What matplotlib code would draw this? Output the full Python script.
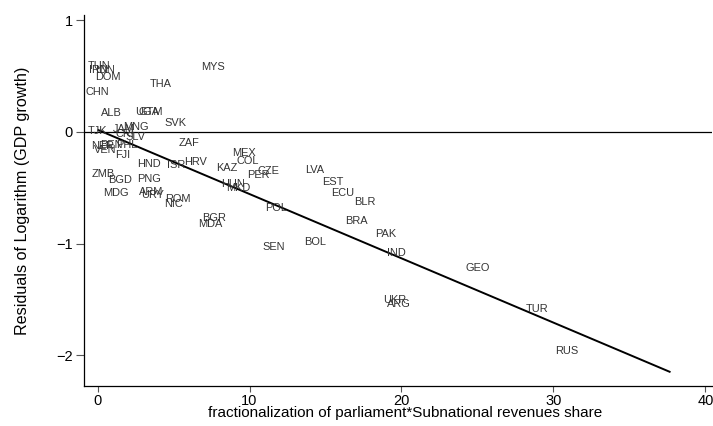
import numpy as np
import matplotlib
matplotlib.use('Agg')
import matplotlib.pyplot as plt

plt.rcParams['font.family'] = ['Liberation Sans', 'DejaVu Sans']

# country codes with (interaction term, growth residual)
COUNTRIES = ['TUN', 'IRN', 'IDN', 'DOM', 'CHN', 'THA', 'MYS', 'ALB', 'UGA', 'GTM',
             'SVK', 'TJK', 'JAM', 'MNG', 'CRI', 'SLV', 'NER', 'VEN', 'BEN', 'PHL',
             'FJI', 'ZAF', 'HRV', 'ISR', 'HND', 'MEX', 'COL', 'KAZ', 'CZE', 'PER',
             'LVA', 'EST', 'ECU', 'BLR', 'ZMB', 'BGD', 'PNG', 'HUN', 'MKD', 'MDG',
             'ARM', 'URY', 'ROM', 'NIC', 'POL', 'BRA', 'PAK', 'BGR', 'MDA', 'BOL',
             'SEN', 'IND', 'GEO', 'UKR', 'ARG', 'TUR', 'RUS']
FRAC_X = [0.07, 0.03, 0.49, 0.69, 0.00, 4.18, 7.63, 0.92, 3.26, 3.52,
          5.10, 0.00, 1.71, 2.53, 1.81, 2.53, 0.36, 0.49, 0.89, 1.94,
          1.68, 6.02, 6.48, 5.16, 3.36, 9.61, 9.90, 8.52, 11.25, 10.59,
          14.31, 15.46, 16.15, 17.60, 0.36, 1.45, 3.42, 8.91, 9.28, 1.22,
          3.55, 3.59, 5.26, 4.97, 11.74, 17.01, 18.98, 7.70, 7.40, 14.34,
          11.61, 19.64, 25.03, 19.54, 19.80, 28.95, 30.86]
RESID_Y = [0.59, 0.555, 0.555, 0.49, 0.36, 0.43, 0.58, 0.17, 0.18, 0.18,
           0.08, 0.01, 0.03, 0.04, -0.02, -0.045, -0.125, -0.16, -0.116, -0.116,
           -0.21, -0.10, -0.27, -0.30, -0.29, -0.19, -0.26, -0.32, -0.35, -0.385,
           -0.34, -0.45, -0.55, -0.63, -0.376, -0.43, -0.42, -0.465, -0.50, -0.546,
           -0.537, -0.564, -0.60, -0.645, -0.68, -0.80, -0.91, -0.77, -0.82, -0.985,
           -1.03, -1.08, -1.22, -1.50, -1.54, -1.585, -1.96]

# linear fit over the sample range
FIT_X = [0.0, 37.7]
FIT_Y = [0.02, -2.15]

XTICKS = [0, 10, 20, 30, 40]
YTICKS = [-2, -1, 0, 1]

fig = plt.figure(figsize=(7.13, 4.26), dpi=100)
ax = fig.add_axes([84 / 713, 40 / 426, (712 - 84) / 713, (386 - 15) / 426])

for code, x, y in zip(COUNTRIES, FRAC_X, RESID_Y):
    ax.text(x, y, code, ha='center', va='center', fontsize=7.9, color='#333333')

ax.axhline(0, color='black', linewidth=0.9)
ax.plot(FIT_X, FIT_Y, color='black', linewidth=1.4, solid_capstyle='butt')

ax.set_xlim(-0.89, 40.43)
ax.set_ylim(-2.274, 1.047)
ax.set_xticks(XTICKS)
ax.set_yticks(YTICKS)
ax.tick_params(axis='both', direction='out', width=0.8, color='#555555',
               labelsize=10.5)
ax.tick_params(axis='x', length=4.5, pad=1)
ax.tick_params(axis='y', length=6, pad=2)
ax.spines[['top', 'right']].set_visible(False)
for s in ('left', 'bottom'):
    ax.spines[s].set_linewidth(0.9)

ax.set_xlabel('fractionalization of parliament*Subnational revenues share',
              fontsize=11, labelpad=-1)
ax.xaxis.set_label_coords(0.511, -0.055)
ax.set_ylabel('Residuals of Logarithm (GDP growth)', fontsize=11.6, labelpad=19)

fig.savefig('out.png', dpi=100)
